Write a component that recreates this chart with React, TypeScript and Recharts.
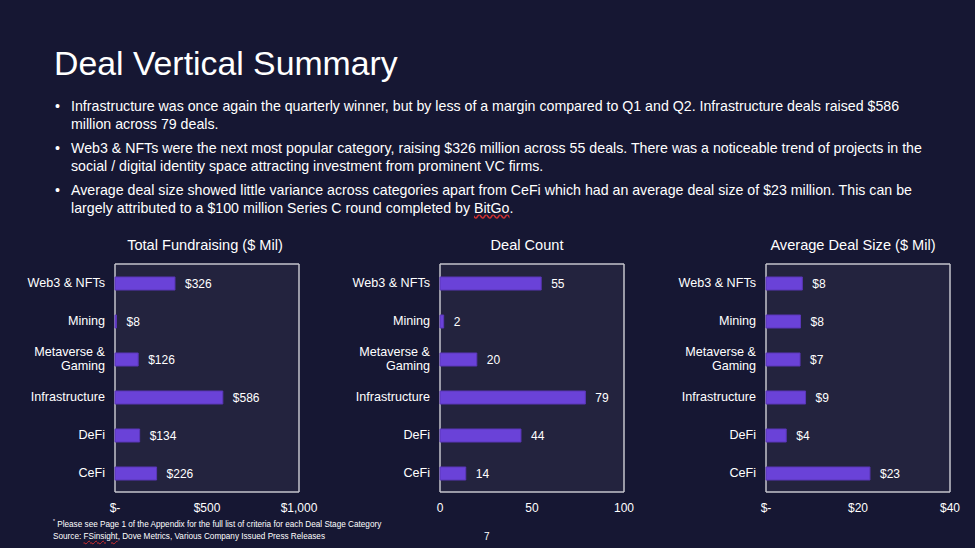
import { BarChart, Bar, XAxis, YAxis, CartesianGrid, LabelList } from "recharts";

const categories = [
  "Web3 & NFTs",
  "Mining",
  "Metaverse &\nGaming",
  "Infrastructure",
  "DeFi",
  "CeFi",
];
const fundraising = [326, 8, 126, 586, 134, 226];
const dealCount = [55, 2, 20, 79, 44, 14];
const avgDealSize = [7.9, 7.5, 7.4, 8.6, 4.4, 22.6];

const fundraisingTicks = [0, 500, 1000];
const countTicks = [0, 50, 100];
const avgTicks = [0, 20, 40];

const FONT = '"Liberation Sans", Arial, sans-serif';
const BG = "#161733";
const PLOT_BG = "#23233e";
const BAR = "#6a42d8";

const dollar = (v: number) => (v === 0 ? "$-" : `$${Math.round(v).toLocaleString("en-US")}`);
const plain = (v: number) => `${Math.round(v)}`;

function CategoryTick(props: any) {
  const { x, y, payload } = props;
  const lines = String(payload.value).split("\n");
  return (
    <text x={x} y={y} textAnchor="end" fill="#ffffff" fontSize={12.6} fontFamily={FONT}>
      {lines.map((l, i) => (
        <tspan key={i} x={x} dy={i === 0 ? `${0.355 * 12.6 - ((lines.length - 1) / 2) * 14}` : "14"}>
          {l}
        </tspan>
      ))}
    </text>
  );
}

interface PanelProps {
  title: string;
  titleCenter: number;
  values: number[];
  ticks: number[];
  fmt: (v: number) => string;
  left: number;
}

function Panel({ title, titleCenter, values, ticks, fmt, left }: PanelProps) {
  const data = categories.map((name, i) => ({ name, value: values[i] }));
  return (
    <div style={{ position: "absolute", left, top: 230, width: 325, height: 300 }}>
      <div
        style={{
          position: "absolute",
          left: titleCenter - 120,
          width: 240,
          top: 7,
          textAlign: "center",
          fontSize: 14.6,
          color: "#ffffff",
          whiteSpace: "nowrap",
        }}
      >
        {title}
      </div>
      <BarChart
        width={325}
        height={300}
        data={data}
        layout="vertical"
        margin={{ top: 34, right: 27, left: 0, bottom: 8 }}
      >
        <CartesianGrid
          fill={PLOT_BG}
          stroke="#c4c4cc"
          strokeWidth={1.5}
          horizontalCoordinatesGenerator={({ offset }: any) => [offset.top, offset.top + offset.height]}
          verticalCoordinatesGenerator={({ offset }: any) => [offset.left, offset.left + offset.width]}
        />
        <XAxis
          type="number"
          domain={[ticks[0], ticks[ticks.length - 1]]}
          ticks={ticks}
          interval={0}
          tickFormatter={fmt}
          axisLine={false}
          tickLine={false}
          tickMargin={5}
          height={30}
          tick={{ fill: "#ffffff", fontSize: 12, fontFamily: FONT }}
        />
        <YAxis
          type="category"
          dataKey="name"
          width={114}
          axisLine={false}
          tickLine={false}
          tickMargin={4}
          interval={0}
          tick={<CategoryTick />}
        />
        <Bar
          dataKey="value"
          fill={BAR}
          stroke="#5a36b8"
          strokeWidth={1}
          barSize={13}
          isAnimationActive={false}
        >
          <LabelList
            dataKey="value"
            position="right"
            offset={10}
            formatter={(v: any) => fmt(Number(v))}
            fill="#ffffff"
            fontSize={12}
            fontFamily={FONT}
          />
        </Bar>
      </BarChart>
    </div>
  );
}

const bullet: React.CSSProperties = {
  position: "relative",
  paddingLeft: 16,
  marginBottom: 6,
};

export default function App() {
  return (
    <div
      style={{
        position: "absolute",
        left: 0,
        top: 0,
        width: 975,
        height: 548,
        background: BG,
        fontFamily: FONT,
        color: "#ffffff",
        overflow: "hidden",
      }}
    >
      <div style={{ position: "absolute", left: 54, top: 44, fontSize: 33.8, whiteSpace: "nowrap" }}>
        Deal Vertical Summary
      </div>
      <div style={{ position: "absolute", left: 55, top: 97, width: 920, fontSize: 14.2, lineHeight: "18px" }}>
        <div style={bullet}>
          <span style={{ position: "absolute", left: 0 }}>•</span>
          Infrastructure was once again the quarterly winner, but by less of a margin compared to Q1 and Q2. Infrastructure deals raised $586
          <br />
          million across 79 deals.
        </div>
        <div style={bullet}>
          <span style={{ position: "absolute", left: 0 }}>•</span>
          Web3 &amp; NFTs were the next most popular category, raising $326 million across 55 deals. There was a noticeable trend of projects in the
          <br />
          social / digital identity space attracting investment from prominent VC firms.
        </div>
        <div style={bullet}>
          <span style={{ position: "absolute", left: 0 }}>•</span>
          Average deal size showed little variance across categories apart from CeFi which had an average deal size of $23 million. This can be
          <br />
          largely attributed to a $100 million Series C round completed by{" "}
          <span style={{ textDecoration: "underline wavy #d03030" }}>BitGo</span>.
        </div>
      </div>

      <Panel title="Total Fundraising ($ Mil)" titleCenter={204} values={fundraising} ticks={fundraisingTicks} fmt={dollar} left={1} />
      <Panel title="Deal Count" titleCenter={201} values={dealCount} ticks={countTicks} fmt={plain} left={326} />
      <Panel title="Average Deal Size ($ Mil)" titleCenter={201} values={avgDealSize} ticks={avgTicks} fmt={dollar} left={652} />

      <div style={{ position: "absolute", left: 53, top: 518, fontSize: 8.2, whiteSpace: "nowrap" }}>
        <sup style={{ fontSize: 5 }}>*</sup> Please see Page 1 of the Appendix for the full list of criteria for each Deal Stage Category
      </div>
      <div style={{ position: "absolute", left: 53, top: 532, fontSize: 8.2, whiteSpace: "nowrap" }}>
        Source: <span style={{ textDecoration: "underline wavy #d03030" }}>FSinsight</span>, Dove Metrics, Various Company Issued Press Releases
      </div>
      <div style={{ position: "absolute", left: 484, top: 531, fontSize: 10 }}>7</div>
    </div>
  );
}
